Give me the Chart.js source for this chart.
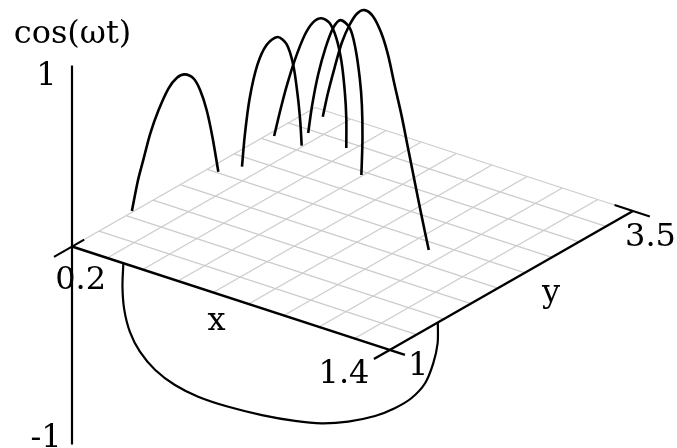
<!DOCTYPE html>
<html>
<head>
<meta charset="utf-8">
<style>html,body{margin:0;padding:0;background:#fff}canvas{display:block}</style>
<script src="https://cdn.jsdelivr.net/npm/chart.js@4"></script>
</head>
<body>
<canvas id="c" width="677" height="448"></canvas>
<script>
// Floor grid values
const gridXValues = [0.2,0.333,0.467,0.6,0.733,0.867,1.0,1.133,1.267,1.4];
const gridYValues = [1,1.278,1.556,1.833,2.111,2.389,2.667,2.944,3.222,3.5];

// Curve segments above the floor
const arc1X = [.195,.198,.201,.204,.208,.213,.217,.221,.225,.228,.231,.234,.237];
const arc1Y = [1.629,1.684,1.734,1.794,1.868,1.957,2.032,2.1,2.18,2.24,2.299,2.35,2.403];
const arc1Z = [0,.156,.262,.383,.491,.586,.623,.623,.578,.497,.37,.208,0];

const arc2X = [.273,.276,.28,.287,.296,.306,.314,.32,.324,.327,.328];
const arc2Y = [2.548,2.569,2.608,2.668,2.738,2.824,2.895,2.947,2.981,3.0,3.012];
const arc2Z = [0,.17,.363,.532,.625,.648,.59,.462,.288,.136,0];

const arc3X = [.221,.239,.259,.285,.316,.342,.368,.393,.414,.43,.44,.445,.445];
const arc3Y = [3.02,3.03,3.043,3.058,3.076,3.091,3.107,3.122,3.134,3.143,3.15,3.152,3.152];
const arc3Z = [0,.138,.282,.438,.586,.664,.694,.675,.598,.473,.311,.166,0];

const arc4X = [.29,.313,.347,.389,.433,.476,.529,.561,.586,.598,.601,.595];
const arc4Y = [3.182,3.161,3.129,3.09,3.049,3.009,2.961,2.931,2.907,2.896,2.894,2.899];
const arc4Z = [0,.173,.365,.544,.688,.765,.76,.672,.527,.389,.207,0];

const arc5X = [.257,.295,.348,.404,.463,.522,.579,.643,.707,.759,.81,.862,.913,.965,1.016,1.073];
const arc5Y = [3.422,3.369,3.296,3.218,3.136,3.054,2.975,2.887,2.798,2.726,2.655,2.584,2.513,2.44,2.37,2.291];
const arc5Z = [0,.16,.354,.543,.693,.81,.88,.904,.87,.796,.676,.556,.419,.281,.143,0];

// Curve segment below the floor
const lowX = [.394,.391,.397,.415,.447,.496,.559,.633,.73,.837,.943,1.028,1.113,1.199,1.262,1.315,1.359,1.385,1.399,1.4];
const lowY = [1,.999,1.001,1.01,1.026,1.05,1.081,1.118,1.165,1.218,1.27,1.312,1.354,1.396,1.427,1.453,1.475,1.488,1.495,1.495];
const lowZ = [0,-.12,-.233,-.34,-.431,-.509,-.566,-.603,-.625,-.635,-.633,-.62,-.586,-.532,-.474,-.408,-.319,-.211,-.106,0];

// Axis text
const axisTitleX = "x";
const axisTitleY = "y";
const axisTitleZ = "cos(\u03c9t)";
const tickLabelsX = ["0.2","1.4"];
const tickLabelsY = ["1","3.5"];
const tickLabelsZ = ["1","-1"];

// Axis ranges
const xMin = 0.2, xMax = 1.4, yMin = 1, yMax = 3.5, zMin = -1, zMax = 1;

// Axonometric view of (x, y, z) onto the flat plotting plane
const view = {ox:72, oy:246.5, xdx:317.7, xdy:103.5, ydx:243.3, ydy:-139, zUp:181, zDown:198};
function project(x, y, z) {
  const s = (x - xMin) / (xMax - xMin), t = (y - yMin) / (yMax - yMin);
  return {
    x: view.ox + view.xdx * s + view.ydx * t,
    y: view.oy + view.xdy * s + view.ydy * t - z * (z >= 0 ? view.zUp : view.zDown)
  };
}
const path = (xs, ys, zs) => xs.map((x, i) => project(x, ys[i], zs[i]));
const seg = (a, b) => [project(a[0], a[1], a[2]), project(b[0], b[1], b[2])];

const datasets = [];
const addLine = (data, color, width, order, tension) => datasets.push({
  data, borderColor: color, borderWidth: width, order, tension: tension || 0,
  pointRadius: 0, showLine: true, fill: false, borderCapStyle: 'butt', borderJoinStyle: 'round'
});

// grid
const gridColor = '#cccccc';
gridXValues.forEach(x => addLine(seg([x, yMin, 0], [x, yMax, 0]), gridColor, 1.3, 5));
gridYValues.forEach(y => addLine(seg([xMin, y, 0], [xMax, y, 0]), gridColor, 1.3, 5));

// axes and end ticks
const axisColor = '#000';
const xLen = xMax - xMin, yLen = yMax - yMin;
addLine(seg([xMin, yMin, 0], [xMax + 0.048 * xLen, yMin, 0]), axisColor, 2.4, 3);
addLine(seg([xMax, yMin - 0.065 * yLen, 0], [xMax, yMax, 0]), axisColor, 2.4, 3);
addLine(seg([xMin, yMin - 0.074 * yLen, 0], [xMin, yMin + 0.05 * yLen, 0]), axisColor, 2, 3);
addLine(seg([xMax - 0.058 * xLen, yMax, 0], [xMax + 0.053 * xLen, yMax, 0]), axisColor, 2, 3);
addLine(seg([xMin, yMin, zMin], [xMin, yMin, zMax]), axisColor, 2.2, 3);

// curves
[[arc1X,arc1Y,arc1Z],[arc2X,arc2Y,arc2Z],[arc3X,arc3Y,arc3Z],[arc4X,arc4Y,arc4Z],[arc5X,arc5Y,arc5Z]]
  .forEach(c => addLine(path(c[0], c[1], c[2]), '#000', 2.6, 1, 0.3));
addLine(path(lowX, lowY, lowZ), '#000', 2.2, 1, 0.3);

// labels: text, anchor point in the plotting plane, offset of the baseline centre
const labels = [
  {text: axisTitleZ, at: project(xMin, yMin, zMax), dx: 0.5, dy: -22.5},
  {text: tickLabelsZ[0], at: project(xMin, yMin, zMax), dx: -25.5, dy: 19.5},
  {text: tickLabelsZ[1], at: project(xMin, yMin, zMin), dx: -26, dy: 2.5},
  {text: tickLabelsX[0], at: project(xMin, yMin, 0), dx: 8.7, dy: 42.5},
  {text: tickLabelsX[1], at: project(xMax, yMin, 0), dx: -45.7, dy: 33},
  {text: tickLabelsY[0], at: project(xMax, yMin, 0), dx: 28.6, dy: 25},
  {text: tickLabelsY[1], at: project(xMax, yMax, 0), dx: 17.5, dy: 34.7},
  {text: axisTitleX, at: project((xMin + xMax) / 2, yMin, 0), dx: -14.4, dy: 31.8},
  {text: axisTitleY, at: project(xMax, (yMin + yMax) / 2, 0), dx: 39.6, dy: 21}
];
const labelPlugin = {
  id: 'labels3d',
  afterDatasetsDraw(chart) {
    const {ctx, scales} = chart;
    ctx.save();
    ctx.fillStyle = '#000';
    ctx.font = '32px "DejaVu Serif"';
    ctx.textAlign = 'center';
    ctx.textBaseline = 'alphabetic';
    labels.forEach(l => ctx.fillText(l.text,
      scales.x.getPixelForValue(l.at.x) + l.dx,
      scales.y.getPixelForValue(l.at.y) + l.dy));
    ctx.restore();
  }
};

new Chart(document.getElementById('c'), {
  type: 'scatter',
  data: {datasets},
  options: {
    responsive: false,
    animation: false,
    layout: {padding: 0},
    plugins: {legend: {display: false}, tooltip: {enabled: false}},
    scales: {
      x: {type: 'linear', display: false, min: 0, max: 677},
      y: {type: 'linear', display: false, min: 0, max: 448, reverse: true}
    }
  },
  plugins: [labelPlugin]
});
</script>
</body>
</html>
